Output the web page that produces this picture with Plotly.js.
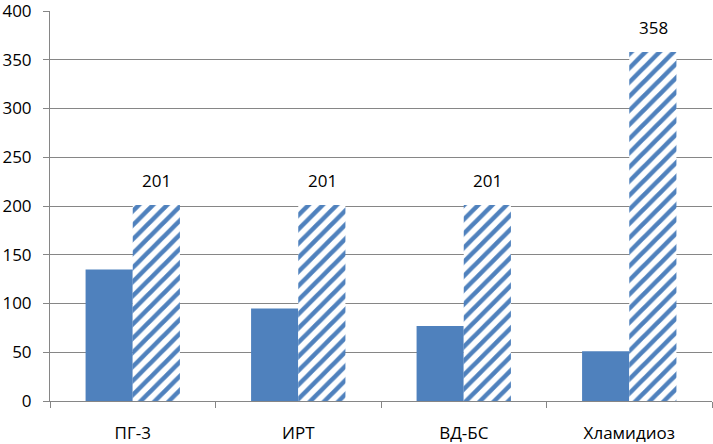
<!DOCTYPE html>
<html><head><meta charset="utf-8">
<script src="https://cdn.plot.ly/plotly-3.0.1.min.js"></script>
<style>html,body{margin:0;padding:0;background:#fff}#c{width:713px;height:444px}</style>
</head><body><div id="c"></div>
<script>
const categories = ["ПГ-3", "ИРТ", "ВД-БС", "Хламидиоз"];
const solidValues = [135, 95, 77, 51];
const hatchedValues = [201, 201, 201, 358];
const hatchedLabels = ["201", "201", "201", "358"];

const blue = "#4F81BD";
const grid = "#868686";
const fontFam = "'Open Sans', 'Liberation Sans', sans-serif";
const fs = 17;

const traces = [
  {type: "bar", x: categories, y: solidValues, marker: {color: blue, line: {width: 0}}, hoverinfo: "none"},
  {type: "bar", x: categories, y: hatchedValues,
   marker: {color: "#fff", line: {width: 0},
     pattern: {shape: "/", fgcolor: blue, bgcolor: "#fff", size: 10, solidity: 0.45, fillmode: "replace"}},
   hoverinfo: "none"}
];

const annotations = categories.map((c, i) => ({
  x: c, y: hatchedValues[i], xref: "x", yref: "y", text: hatchedLabels[i],
  showarrow: false, yanchor: "bottom", xanchor: "center", xshift: 24, yshift: 11,
  font: {family: fontFam, size: fs, color: "#000"}
}));

const layout = {
  width: 713, height: 444,
  margin: {l: 50, r: 1, t: 11, b: 43},
  paper_bgcolor: "#fff", plot_bgcolor: "#fff",
  showlegend: false,
  barmode: "group", bargap: 0.43, bargroupgap: 0,
  font: {family: fontFam, size: fs, color: "#000"},
  annotations: annotations,
  xaxis: {type: "category", showgrid: false, showline: true, linecolor: grid, linewidth: 1,
    ticks: "outside", tickson: "boundaries", ticklen: 6, tickcolor: grid,
    tickfont: {family: fontFam, size: fs, color: "#000"}, ticklabelstandoff: 17, zeroline: false},
  yaxis: {range: [0, 400], dtick: 50, showgrid: true, gridcolor: grid, gridwidth: 1,
    showline: true, linecolor: grid, linewidth: 1, ticks: "outside", ticklen: 6, tickcolor: grid,
    tickfont: {family: fontFam, size: fs, color: "#000"}, ticklabelstandoff: 8, zeroline: false,
    ticklabeloverflow: "allow"}
};

Plotly.newPlot("c", traces, layout, {displayModeBar: false, staticPlot: true});
</script></body></html>
